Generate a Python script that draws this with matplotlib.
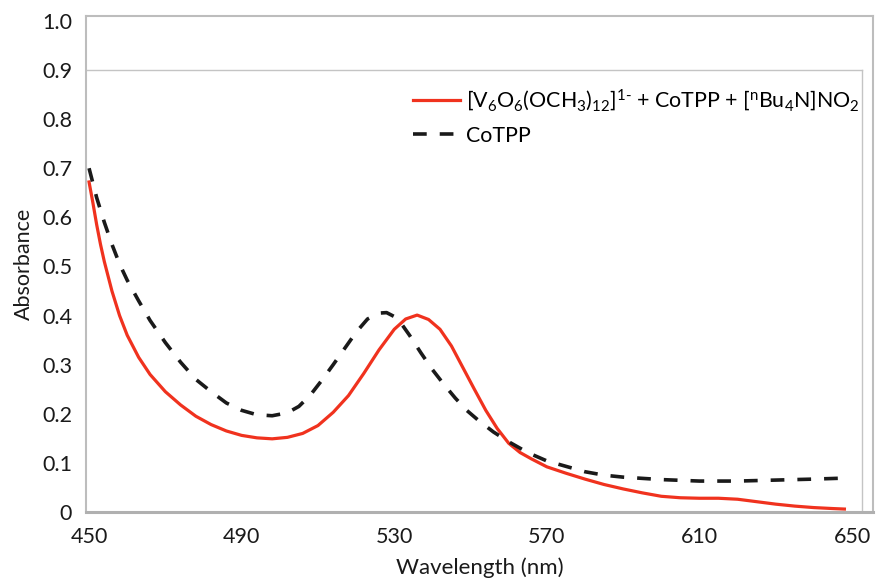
import matplotlib
matplotlib.use("Agg")
import matplotlib.pyplot as plt

plt.rcParams['font.family'] = ['Lato', 'DejaVu Sans']
plt.rcParams['mathtext.fontset'] = 'custom'
plt.rcParams['mathtext.rm'] = 'Lato'
plt.rcParams['mathtext.it'] = 'Lato:italic'
plt.rcParams['mathtext.bf'] = 'Lato:bold'

red_nm = [450, 451, 452, 453, 454, 456, 458, 460, 463, 466, 470, 474, 478, 482, 486, 490, 494, 498,
          502, 506, 510, 514, 518, 522, 526, 530, 533, 536, 539, 542, 545, 548, 551, 554,
          557, 560, 563, 566, 570, 575, 580, 585, 590, 595, 600, 605, 610, 615, 620, 625,
          630, 635, 640, 645, 648]
red_abs = [0.672, 0.63, 0.585, 0.545, 0.51, 0.45, 0.40, 0.36, 0.315, 0.28, 0.245, 0.218, 0.195,
           0.178, 0.165, 0.156, 0.151, 0.149, 0.152, 0.160, 0.176, 0.203, 0.237, 0.282, 0.330,
           0.372, 0.393, 0.401, 0.392, 0.372, 0.338, 0.294, 0.250, 0.207, 0.170, 0.140,
           0.121, 0.108, 0.092, 0.079, 0.067, 0.056, 0.047, 0.039, 0.032, 0.029, 0.028,
           0.028, 0.026, 0.021, 0.016, 0.012, 0.009, 0.007, 0.006]

blk_nm = [450, 452, 454, 456, 458, 460, 463, 466, 470, 474, 478, 482, 486, 490, 494, 498,
          502, 505, 508, 511, 514, 517, 520, 523, 526, 528, 530, 532, 534, 537, 540, 543, 546,
          549, 552, 556, 560, 565, 570, 575, 580, 585, 590, 600, 610, 620, 630, 640, 648]
blk_abs = [0.700, 0.64, 0.59, 0.545, 0.505, 0.472, 0.43, 0.39, 0.345, 0.305, 0.27, 0.245,
           0.222, 0.207, 0.198, 0.196, 0.202, 0.215, 0.238, 0.268, 0.300, 0.333, 0.366,
           0.393, 0.405, 0.406, 0.398, 0.382, 0.360, 0.324, 0.290, 0.260, 0.232, 0.207,
           0.187, 0.163, 0.143, 0.121, 0.104, 0.093, 0.082, 0.075, 0.071, 0.066, 0.063,
           0.063, 0.065, 0.067, 0.069]

xticks = [450, 490, 530, 570, 610, 650]
yticks = [0, 0.1, 0.2, 0.3, 0.4, 0.5, 0.6, 0.7, 0.8, 0.9, 1.0]
ytick_labels = ["0", "0.1", "0.2", "0.3", "0.4", "0.5", "0.6", "0.7", "0.8", "0.9", "1.0"]

red_label = r"[V$_6$O$_6$(OCH$_3$)$_{12}$]$^{1\text{-}}$ + CoTPP + [$^\mathrm{n}$Bu$_4$N]NO$_2$"
blk_label = "CoTPP"

fig = plt.figure(figsize=(8.81, 5.86), dpi=100)
ax = fig.add_axes([86/881, 1-512/586, (873-86)/881, (512-16)/586])

ax.plot(red_nm, red_abs, color='#f0321e', lw=2.3, label=red_label, zorder=3)
ax.plot(blk_nm, blk_abs, color='#1a1a1a', lw=2.6, ls=(0, (3.8, 3.6)), label=blk_label, zorder=3)

ax.set_xlim(449.2, 655.5)
ax.set_ylim(0, 1.01)
ax.set_xticks(xticks)
ax.set_xticklabels([str(t) for t in xticks])
ax.set_yticks(yticks)
ax.set_yticklabels(ytick_labels)
ax.tick_params(axis='both', length=0, labelsize=15.5, colors='#1a1a1a')
ax.tick_params(axis='y', pad=10)
ax.tick_params(axis='x', pad=11)

for s in ['top', 'right', 'left']:
    ax.spines[s].set_color('#bdbdbd')
    ax.spines[s].set_linewidth(1.5)
ax.spines['bottom'].set_color('#b0b0b0')
ax.spines['bottom'].set_linewidth(2.2)

# inner plot-area frame
ax.plot([449.2, 652.6], [0.9, 0.9], color='#c4c4c4', lw=1.0, zorder=1)
ax.plot([652.6, 652.6], [0, 0.9], color='#c4c4c4', lw=1.0, zorder=1)

ax.set_xlabel("Wavelength (nm)", fontsize=16, color='#1a1a1a', labelpad=7)
ax.set_ylabel("Absorbance", fontsize=15.5, color='#1a1a1a', labelpad=6)

leg = ax.legend(loc='upper left', bbox_to_anchor=(0.405, 0.874), frameon=False,
                fontsize=15.4, handlelength=2.2, handletextpad=0.25, labelspacing=0.6,
                borderaxespad=0)

fig.savefig("out.png", dpi=100, facecolor='white')
